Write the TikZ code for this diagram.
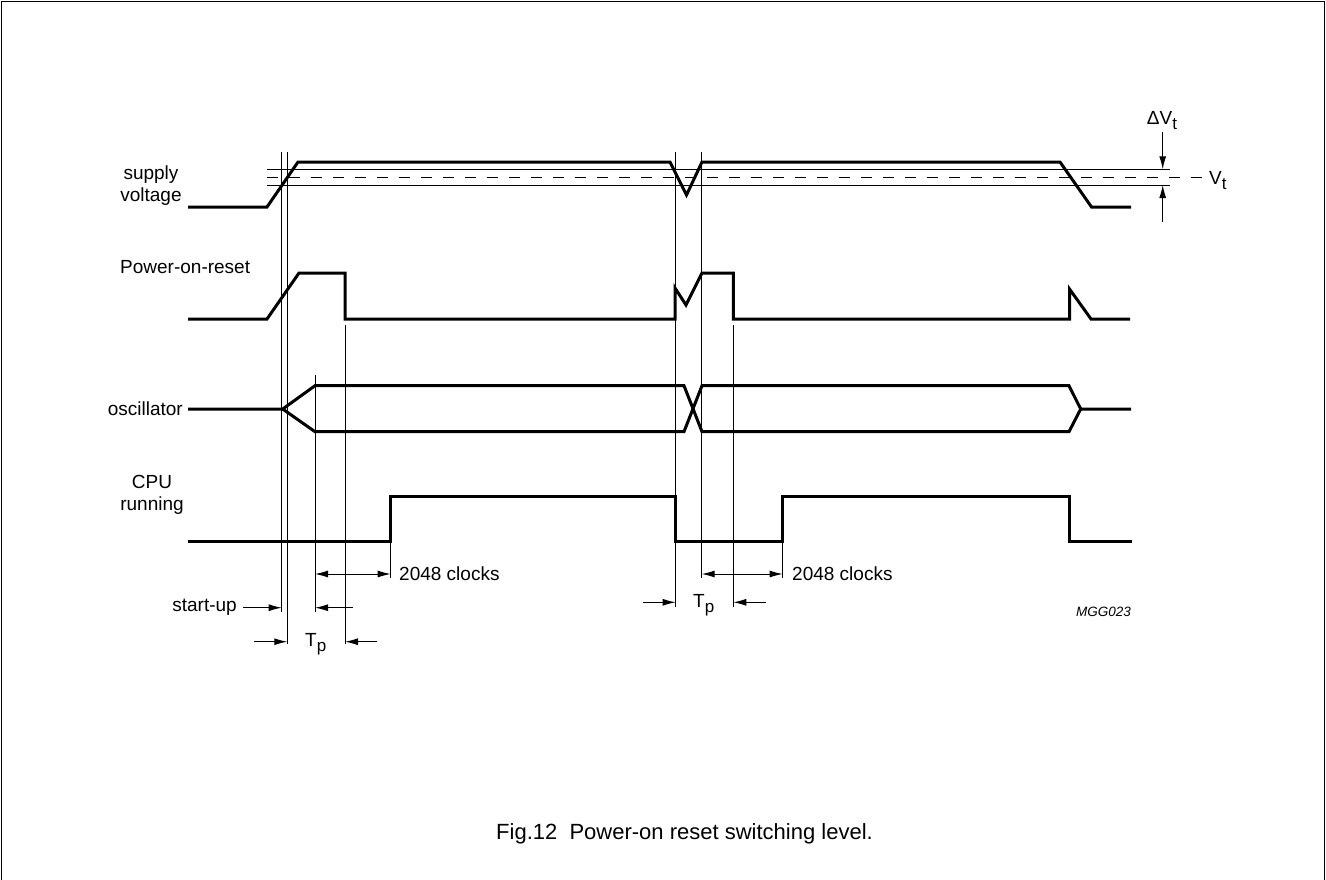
\documentclass[tikz,border=0pt]{standalone}
\usepackage{fontspec}
\setmainfont{Liberation Sans}
\usetikzlibrary{arrows.meta}
\newcommand\lowsub[1]{\raisebox{-0.5ex}{\fontsize{17}{19}\selectfont #1}}
\tikzset{
  sig/.style={line width=3pt, line join=miter},
  thin/.style={line width=1pt},
  marker/.style={line width=1pt},
  dim/.style={line width=1pt, -{Latex[length=13pt,width=7pt]}},
  ddim/.style={line width=1pt, {Latex[length=13pt,width=7pt]}-{Latex[length=13pt,width=7pt]}},
  lbl/.style={inner sep=0pt, font=\fontsize{19}{22}\selectfont},
}
\begin{document}
\begin{tikzpicture}[x=1pt,y=-1pt]
\useasboundingbox (0,0) rectangle (1326,879);
% frame
\draw[line width=1.2pt] (1.5,905) -- (1.5,1.5) -- (1324.5,1.5) -- (1324.5,905);

% threshold lines
\draw[thin] (267,169.3) -- (1170,169.3);
\draw[thin] (267,185) -- (1170,185);
\draw[thin, dash pattern=on 11pt off 11pt] (267,177.3) -- (1202,177.3);

% marker coordinates
\coordinate (a1) at (281.7,152);  \coordinate (a2) at (281.7,612);
\coordinate (b1) at (287.3,152);  \coordinate (b2) at (287.3,644);
\coordinate (c1) at (315,375);    \coordinate (c2) at (315,612);
\coordinate (d1) at (345,325);    \coordinate (d2) at (345,644);
\coordinate (e1) at (390.7,541);  \coordinate (e2) at (390.7,578);
\coordinate (f1) at (675.7,152);  \coordinate (f2) at (675.7,607);
\coordinate (g1) at (701.7,152);  \coordinate (g2) at (701.7,578);
\coordinate (h1) at (733.3,325);  \coordinate (h2) at (733.3,607);
\coordinate (i1) at (782.7,541);  \coordinate (i2) at (782.7,578);
\foreach \p in {a,b,c,d,e,f,g,h,i} \draw[marker] (\p1) -- (\p2);

% signals
\draw[sig] (188,207) -- (267,207) -- (298,162) -- (670,162) -- (686.5,195) -- (702,162)
  -- (1060,162) -- (1091.5,207) -- (1131,207);
\draw[sig] (188,319) -- (267,319) -- (299,273) -- (345,273) -- (345,319) -- (675,319)
  -- (675,288) -- (686,305) -- (702,273) -- (733.3,273) -- (733.3,319) -- (1069.5,319)
  -- (1069.5,289) -- (1091,319) -- (1130,319);
\draw[sig] (188,409) -- (282.7,409) -- (315,385.7) -- (684,385.7) -- (702,431.7)
  -- (1069,431.7) -- (1080.7,409) -- (1131,409);
\draw[sig] (282.7,409) -- (315,431.7) -- (684,431.7) -- (702,385.7) -- (1069,385.7) -- (1080.7,409);
\draw[sig] (188,541) -- (390.7,541) -- (390.7,496) -- (675.7,496) -- (675.7,541)
  -- (782.7,541) -- (782.7,496) -- (1069.5,496) -- (1069.5,541) -- (1132,541);

% labels
\node[lbl, align=center] (lsup) at (151,186) {supply\\voltage};
\node[lbl, anchor=west] (lpor) at (120,267) {Power-on-reset};
\node[lbl, anchor=east] (losc) at (183,409) {oscillator};
\node[lbl, align=center] (lcpu) at (152,495) {CPU\\running};

% dimension arrows left
\coordinate (sua) at (243,607.7); \coordinate (sub) at (281.7,607.7);
\draw[dim] (sua) -- (sub);
\node[lbl, anchor=east] (lsu) at (237,607.7) {start-up};
\coordinate (cla) at (315,574); \coordinate (clb) at (390.7,574);
\draw[ddim] (cla) -- (clb);
\node[lbl, anchor=west] (lcl1) at (399,574) {2048 clocks};
\coordinate (ra) at (353,607.7); \coordinate (rb) at (315,607.7);
\draw[dim] (ra) -- (rb);
\coordinate (ta) at (254,641.7); \coordinate (tb) at (287.3,641.7);
\draw[dim] (ta) -- (tb);
\coordinate (tc) at (376.7,641.7); \coordinate (td) at (345,641.7);
\draw[dim] (tc) -- (td);
\node[lbl, anchor=west] (ltp1) at (305,644) {T\lowsub{p}};

% dimension arrows middle
\coordinate (ma) at (643,602.3); \coordinate (mb) at (675.7,602.3);
\draw[dim] (ma) -- (mb);
\coordinate (mc) at (766,602.3); \coordinate (md) at (733.3,602.3);
\draw[dim] (mc) -- (md);
\node[lbl, anchor=west] (ltp2) at (693,605) {T\lowsub{p}};
\coordinate (mca) at (701.7,574); \coordinate (mcb) at (782.7,574);
\draw[ddim] (mca) -- (mcb);
\node[lbl, anchor=west] (lcl2) at (792,574) {2048 clocks};

% Delta V_t
\coordinate (dv1) at (1162.7,131.7); \coordinate (dv2) at (1162.7,169.3);
\draw[dim] (dv1) -- (dv2);
\coordinate (dv3) at (1162.7,222); \coordinate (dv4) at (1162.7,185);
\draw[dim] (dv3) -- (dv4);
\node[lbl] (ldv) at (1162,121) {ΔV\lowsub{t}};
\node[lbl, anchor=west] (lvt) at (1209,181) {V\lowsub{t}};

% id and caption
\node[inner sep=0pt, anchor=east, font=\fontsize{13.5}{16}\selectfont\itshape] (lid) at (1131,612) {MGG023};
\node[inner sep=0pt, font=\fontsize{22}{26}\selectfont] (cap) at (684.5,834) {Fig.12\ \ Power-on reset switching level.};
\end{tikzpicture}
\end{document}
